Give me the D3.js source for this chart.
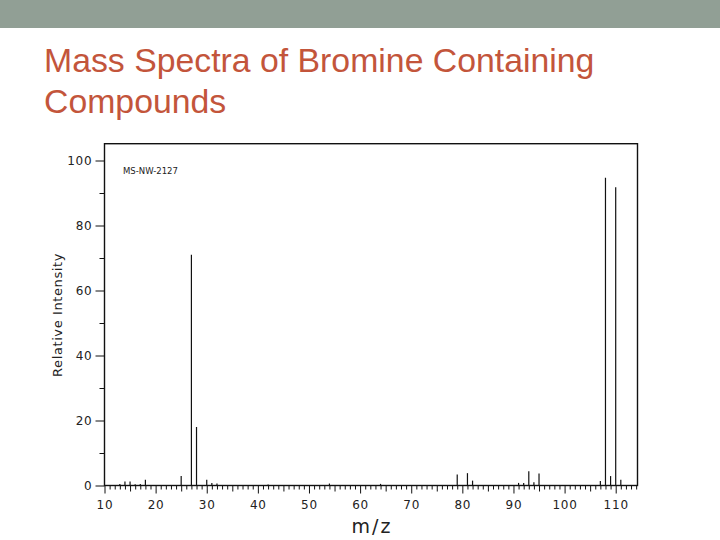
<!DOCTYPE html>
<html>
<head>
<meta charset="utf-8">
<script src="https://cdn.jsdelivr.net/npm/d3@7"></script>
<style>
  body { margin: 0; background: #fff; }
  svg { display: block; }
</style>
</head>
<body>
<div id="slide"></div>
<script>
// Peaks: m/z and relative intensity (%)
var mzValues = [13, 14, 15, 16, 17, 18, 25, 27, 28, 30, 31, 32, 42, 54, 64,
  79, 81, 82, 91, 92, 93, 94, 95, 107, 108, 109, 110, 111];
var intensities = [0.5, 1.2, 1.2, 0.4, 0.5, 1.8, 2.9, 71, 18, 1.8, 0.8, 0.6, 0.3, 0.6, 0.5,
  3.4, 3.8, 1.5, 0.8, 0.8, 4.4, 1.0, 3.7, 1.4, 94.7, 2.9, 91.8, 1.8];

var xTickLabels = [10, 20, 30, 40, 50, 60, 70, 80, 90, 100, 110];
var yTickLabels = [0, 20, 40, 60, 80, 100];

var titleLines = ["Mass Spectra of Bromine Containing", "Compounds"];
var spectrumId = "MS-NW-2127";

var svgWidth = 720;
var svgHeight = 540;

// plot frame in page pixels
var frame = { left: 104.5, right: 637.5, top: 143.7, bottom: 485.5 };

var svg = d3.select("#slide")
  .append("svg")
  .attr("width", svgWidth)
  .attr("height", svgHeight);

// grey band across the top of the slide
svg.append("rect")
  .attr("x", 0)
  .attr("y", 0)
  .attr("width", svgWidth)
  .attr("height", 28)
  .attr("fill", "#919f95");

// slide title, two lines
svg.selectAll(null)
  .data(titleLines)
  .enter()
  .append("text")
  .attr("x", 44)
  .attr("y", (d, i) => 72 + i * 41)
  .attr("font-family", "Liberation Sans, Arial, sans-serif")
  .attr("font-size", "33.8px")
  .attr("fill", "#c3553b")
  .text(d => d);

// scales
var xScale = d3.scaleLinear()
  .domain([10, 10 + (frame.right - frame.left) / 5.112])
  .range([frame.left, frame.right]);

var yScale = d3.scaleLinear()
  .domain([0, (frame.bottom - frame.top) / 3.25])
  .range([frame.bottom, frame.top]);

var ink = "#111";
var tickFont = "DejaVu Sans, sans-serif";

// x-axis: a tick below the line at every unit, longer at 5s and 10s
var xMinor = d3.range(10, 115);
var xAxis = d3.axisBottom(xScale)
  .tickValues(xMinor)
  .tickSizeOuter(0)
  .tickFormat(d => xTickLabels.indexOf(d) >= 0 ? d : "");

var xAxisG = svg.append("g")
  .attr("transform", `translate(0, ${frame.bottom})`)
  .call(xAxis);

xAxisG.select(".domain").remove();
xAxisG.selectAll(".tick line")
  .attr("stroke", ink)
  .attr("y2", d => d % 10 === 0 ? 8 : (d % 5 === 0 ? 6 : 4));
xAxisG.selectAll(".tick text")
  .attr("y", 15)
  .attr("dy", "0.71em")
  .attr("font-family", tickFont)
  .attr("font-size", "12px")
  .attr("letter-spacing", "0.8px")
  .attr("fill", "#222");

// y-axis: labels at 20s, short ticks at the odd tens
var yAxis = d3.axisLeft(yScale)
  .tickValues(d3.range(0, 101, 10))
  .tickSizeOuter(0)
  .tickFormat(d => yTickLabels.indexOf(d) >= 0 ? d : "");

var yAxisG = svg.append("g")
  .attr("transform", `translate(${frame.left}, 0)`)
  .call(yAxis);

yAxisG.select(".domain").remove();
yAxisG.selectAll(".tick line")
  .attr("stroke", ink)
  .attr("x2", d => d % 20 === 0 ? -9 : -5);
yAxisG.selectAll(".tick text")
  .attr("x", -12)
  .attr("font-family", tickFont)
  .attr("font-size", "12px")
  .attr("letter-spacing", "0.8px")
  .attr("fill", "#222");

// frame round the plot
svg.append("rect")
  .attr("x", frame.left)
  .attr("y", frame.top)
  .attr("width", frame.right - frame.left)
  .attr("height", frame.bottom - frame.top)
  .attr("fill", "none")
  .attr("stroke", ink)
  .attr("stroke-width", 1.4);

// the peaks as vertical sticks
svg.selectAll(null)
  .data(mzValues)
  .enter()
  .append("line")
  .attr("x1", d => xScale(d))
  .attr("x2", d => xScale(d))
  .attr("y1", yScale(0))
  .attr("y2", (d, i) => yScale(intensities[i]))
  .attr("stroke", ink)
  .attr("stroke-width", 1.2);

// spectrum id in the corner
svg.append("text")
  .attr("x", 123)
  .attr("y", 174)
  .attr("font-family", tickFont)
  .attr("font-size", "8.5px")
  .attr("fill", "#222")
  .text(spectrumId);

// axis titles
svg.append("text")
  .attr("x", 372)
  .attr("y", 533)
  .attr("text-anchor", "middle")
  .attr("font-family", tickFont)
  .attr("font-size", "19px")
  .attr("letter-spacing", "2px")
  .attr("fill", "#222")
  .text("m/z");

svg.append("text")
  .attr("transform", "translate(62, 315) rotate(-90)")
  .attr("text-anchor", "middle")
  .attr("font-family", tickFont)
  .attr("font-size", "13px")
  .attr("letter-spacing", "0.6px")
  .attr("fill", "#222")
  .text("Relative Intensity");
</script>
</body>
</html>
